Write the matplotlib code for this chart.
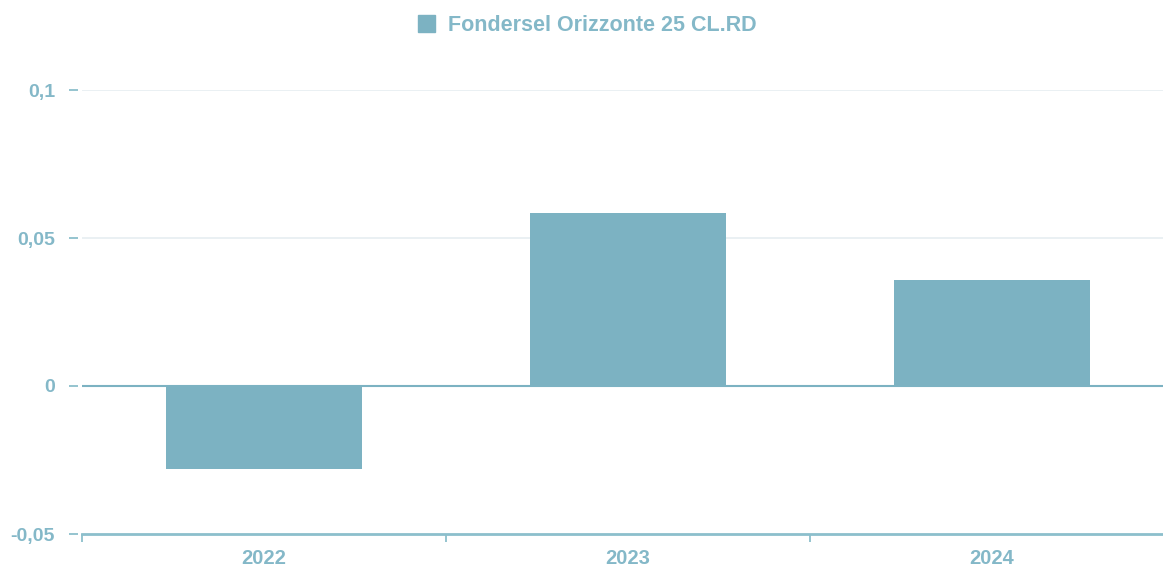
import matplotlib.pyplot as plt
from matplotlib.patches import Patch

# data
years = ["2022", "2023", "2024"]
returns = [-0.028, 0.0584, 0.0358]
series_name = "Fondersel Orizzonte 25 CL.RD"
y_ticks = [-0.05, 0, 0.05, 0.1]
y_labels = ["-0,05", "0", "0,05", "0,1"]

bar_color = "#7cb2c2"
text_color = "#84b8c8"
grid_color = "#e6eef1"
axis_color = "#8cbfcc"

plt.rcParams["font.family"] = ["Liberation Sans", "DejaVu Sans"]
plt.rcParams["font.weight"] = "bold"

fig = plt.figure(figsize=(11.63, 5.68), dpi=100)
ax = fig.add_axes([82 / 1163, 34 / 568, 1092 / 1163, 444 / 568])

x = range(len(years))
ax.bar(x, returns, width=0.54, color=bar_color, zorder=3)

ax.set_xlim(-0.5, len(years) - 0.5)
ax.set_ylim(-0.05, 0.1)

# horizontal grid lines and zero line
for v in y_ticks[2:]:
    ax.axhline(v, color=grid_color, linewidth=1.2, zorder=1)
ax.axhline(0, color=bar_color, linewidth=1.5, zorder=2)

for side in ["top", "right"]:
    ax.spines[side].set_visible(False)
ax.spines["left"].set_visible(False)
ax.spines["left"].set_position(("outward", 3))
ax.spines["bottom"].set_color(axis_color)
ax.spines["bottom"].set_linewidth(2)

ax.set_yticks(y_ticks)
ax.set_yticklabels(y_labels)
ax.tick_params(axis="y", length=6.5, width=1.3, color=axis_color, pad=10,
               labelcolor=text_color, labelsize=14)

ax.set_xticks(list(x))
ax.set_xticklabels(years)
ax.set_xticks([i - 0.5 for i in range(len(years) + 1)], minor=True)
ax.tick_params(axis="x", which="major", length=0, pad=11,
               labelcolor=text_color, labelsize=14.5)
ax.tick_params(axis="x", which="minor", length=6, width=1.3, color=axis_color)

fig.legend(handles=[Patch(color=bar_color, label=series_name)],
           loc="upper center", bbox_to_anchor=(0.505, 1.0), frameon=False,
           handlelength=0.8, handleheight=0.8, handletextpad=0.6,
           prop={"size": 15.5, "weight": "bold"}, labelcolor=text_color,
           borderaxespad=0.3)

fig.savefig("out.png", dpi=100)
